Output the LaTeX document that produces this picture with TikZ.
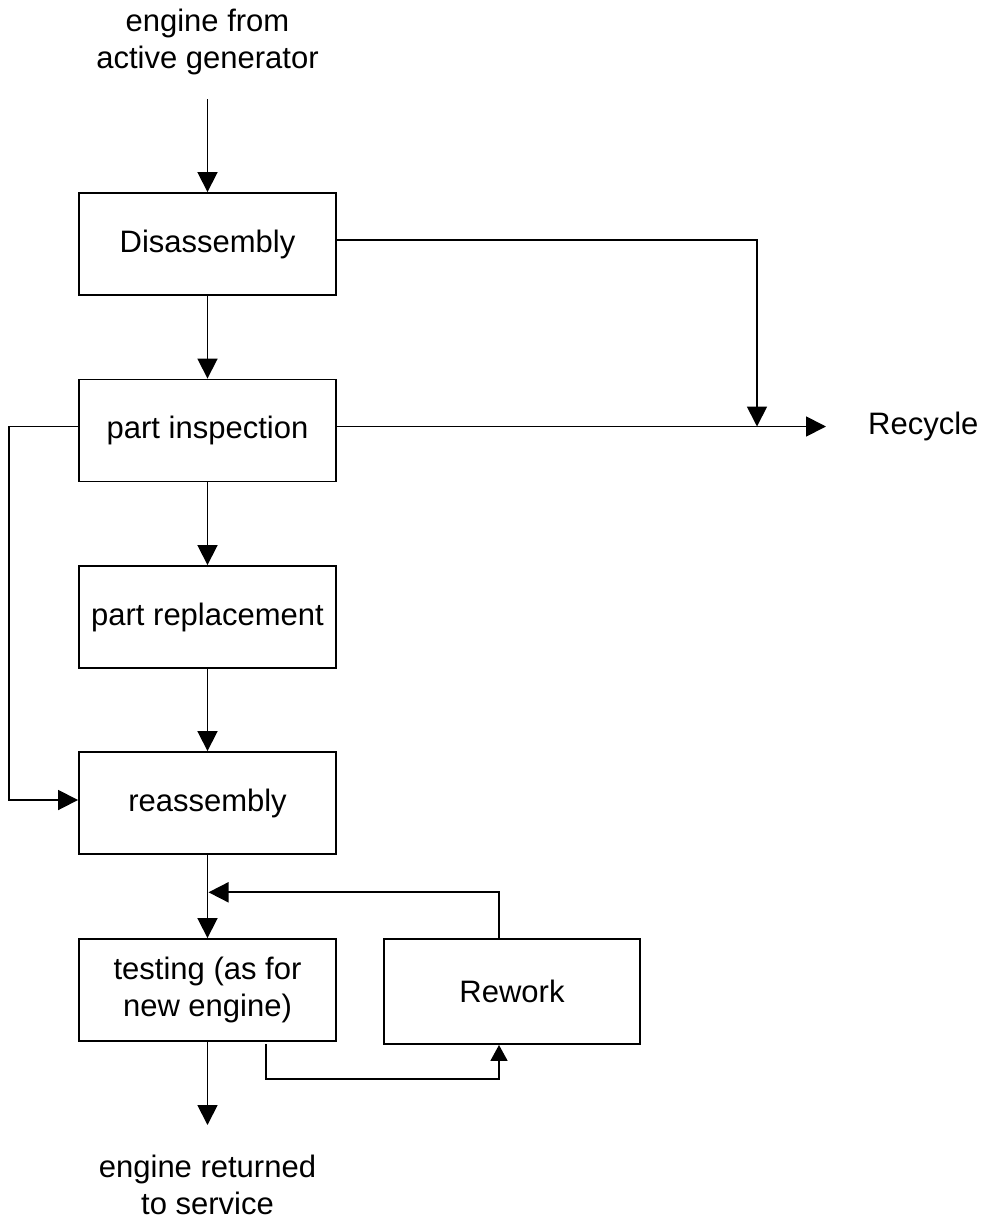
\documentclass[tikz,border=0pt]{standalone}
\usepackage{fontspec}
\setmainfont{Liberation Sans}
\usetikzlibrary{arrows.meta}
\begin{document}
\begin{tikzpicture}[x=1pt,y=-1pt,
  every node/.style={font=\fontsize{31}{37}\selectfont, align=center},
  box/.style={draw, line width=1.9pt, minimum width=257pt, minimum height=102pt, inner sep=0pt},
  link/.style={line width=1.8pt},
  arr/.style={link, -{Triangle[length=20pt,width=20pt]}},
  arrsmall/.style={link, -{Triangle[length=16pt,width=17pt]}},
  label/.style={inner sep=0pt}]
\useasboundingbox (0,0) rectangle (981,1221);

% process boxes
\node[box] (dis)  at (207.5,244)   {Disassembly};
\node[box] (insp) at (207.5,430.5) {part inspection};
\node[box] (repl) at (207.5,617)   {part replacement};
\node[box] (reas) at (207.5,803)   {reassembly};
\node[box] (test) at (207.5,990)   {testing (as for\\new engine)};
\node[box, minimum width=256pt, minimum height=105pt] (rew) at (512,991.5) {Rework};

% free labels
\node[label] (src) at (207.5,41.5) {engine from\\active generator};
\node[label, anchor=west] (recycle) at (868,426.5) {Recycle};
\node[label] (out) at (207.5,1185) {engine returned\\to service};

% helper points
\coordinate (inflow)  at (207.5,99);
\coordinate (merge)   at (757,426.5);
\coordinate (rtip)    at (826,426.5);
\coordinate (leftrail) at (9,600);
\coordinate (join)    at (208.5,892.3);
\coordinate (outtip)  at (207.5,1125);
\coordinate (botrail) at (400,1079);

% main flow
\draw[arr] (inflow) -- (dis.north);
\draw[arr] (dis.south) -- (insp.north);
\draw[arr] (insp.south) -- (repl.north);
\draw[arr] (repl.south) -- (reas.north);
\draw[arr] (reas.south) -- (test.north);
\draw[arr] (test.south) -- (outtip);

% scrap routes
\draw[arr] ([yshift=4pt]dis.east) -| (merge);
\draw[arr] ([yshift=4pt]insp.east) -- (rtip);

% bypass of part replacement
\draw[arr] ([yshift=4pt]insp.west) -| (leftrail) |- ([yshift=3pt]reas.west);

% rework loop
\draw[arrsmall] ([xshift=58.5pt,yshift=-2pt]test.south) |- (botrail) -| ([xshift=-13pt]rew.south);
\draw[arr] ([xshift=-13pt]rew.north) |- (join);
\end{tikzpicture}
\end{document}
